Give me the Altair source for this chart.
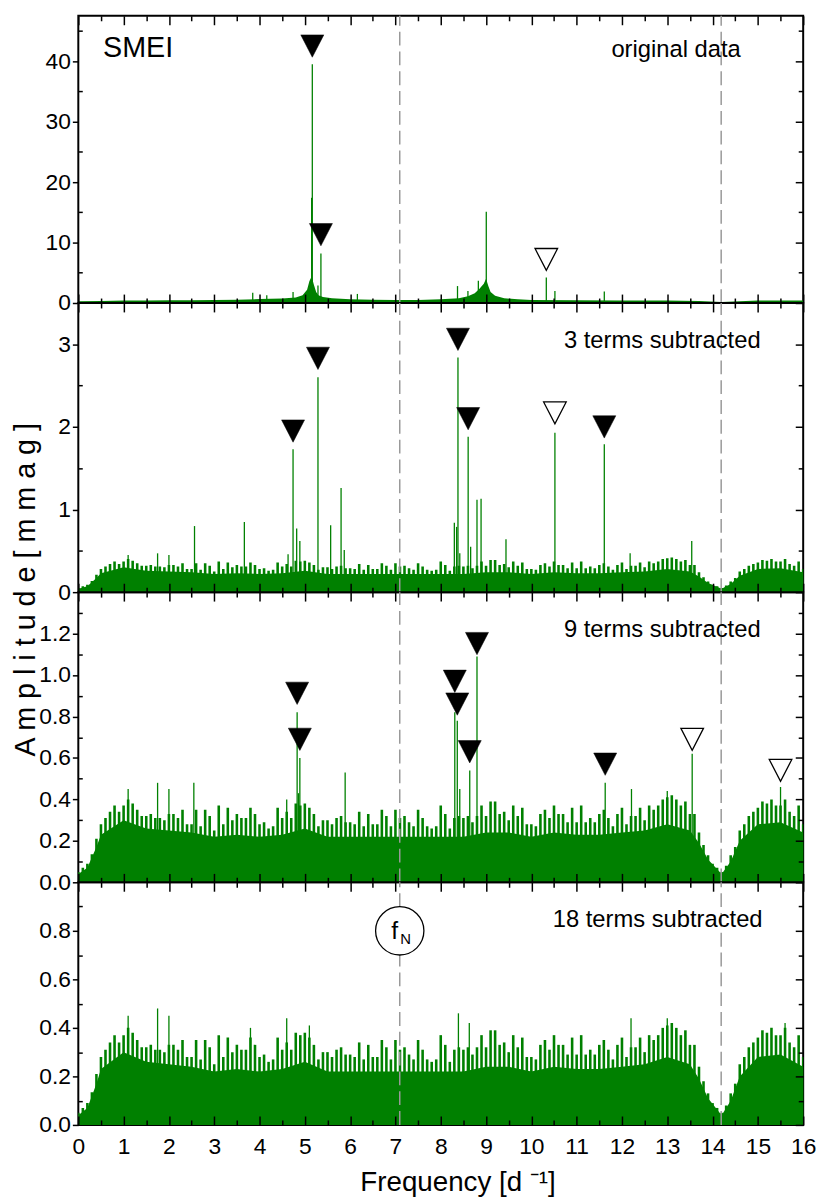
import json
import altair as alt
import pandas as pd

GREEN = "#008000"
FONT = "Liberation Sans"
W = 732

# ---------------- data ----------------
# Nyquist frequency and its double (dashed lines), d^-1
nyquist = [7.095, 14.19]

# residual noise periodogram (panels 2-4): spike tops sampled every 0.1 d^-1 from 0 to 16
noise_freq = [round(i * 0.1, 1) for i in range(161)]
residual = [
    0.05, 0.07, 0.09, 0.135, 0.21, 0.28, 0.31, 0.34, 0.37, 0.34,
    0.37, 0.40, 0.38, 0.35, 0.32, 0.32, 0.33, 0.31, 0.31, 0.30,
    0.33, 0.33, 0.31, 0.35, 0.28, 0.28, 0.35, 0.27, 0.35, 0.32,
    0.25, 0.37, 0.28, 0.36, 0.30, 0.33, 0.31, 0.31, 0.36, 0.33,
    0.28, 0.29, 0.26, 0.27, 0.36, 0.31, 0.34, 0.31, 0.38, 0.37,
    0.38, 0.36, 0.33, 0.27, 0.30, 0.30, 0.28, 0.31, 0.32, 0.29,
    0.29, 0.28, 0.34, 0.27, 0.33, 0.28, 0.28, 0.35, 0.32, 0.27,
    0.35, 0.31, 0.32, 0.29, 0.27, 0.35, 0.31, 0.27, 0.26, 0.27,
    0.37, 0.33, 0.26, 0.31, 0.32, 0.31, 0.32, 0.29, 0.32, 0.37,
    0.32, 0.39, 0.39, 0.33, 0.34, 0.30, 0.37, 0.32, 0.36, 0.28,
    0.28, 0.27, 0.33, 0.35, 0.31, 0.37, 0.33, 0.33, 0.29, 0.36,
    0.29, 0.37, 0.29, 0.31, 0.29, 0.33, 0.35, 0.31, 0.27, 0.33,
    0.36, 0.28, 0.32, 0.32, 0.36, 0.30, 0.37, 0.35, 0.37, 0.40,
    0.41, 0.42, 0.40, 0.37, 0.39, 0.33, 0.33, 0.24, 0.18, 0.13,
    0.09, 0.07, 0.05, 0.08, 0.13, 0.17, 0.25, 0.28, 0.32, 0.34,
    0.36, 0.39, 0.38, 0.40, 0.37, 0.37, 0.40, 0.34, 0.32, 0.37,
    0.28,
]
# solid (lower) level of the residual noise
base_freq = [0, 0.2, 0.4, 0.5, 1.0, 1.5, 2.0, 2.5, 3.0, 3.5, 4.0, 4.5, 5.0, 5.5, 6.0,
             6.5, 7.0, 7.5, 8.0, 8.5, 9.0, 9.5, 10.0, 10.5, 11.0, 11.5, 12.0, 12.5,
             13.0, 13.5, 13.7, 13.9, 14.2, 14.4, 14.6, 15.0, 15.5, 16.0]
base_amp = [0.04, 0.07, 0.17, 0.23, 0.30, 0.26, 0.25, 0.24, 0.22, 0.23, 0.22, 0.23, 0.26,
            0.22, 0.22, 0.22, 0.22, 0.22, 0.22, 0.22, 0.24, 0.24, 0.22, 0.24, 0.23, 0.23,
            0.24, 0.25, 0.28, 0.25, 0.19, 0.11, 0.04, 0.10, 0.20, 0.28, 0.29, 0.24]

# original data noise (panel 1)
orig_noise_freq = [0, 0.5, 1, 1.5, 2, 2.5, 3, 3.5, 4, 4.5, 4.8, 4.95, 5.05, 5.1, 5.15,
                   5.2, 5.25, 5.3, 5.4, 5.6, 6, 6.5, 7, 7.5, 8, 8.4, 8.6, 8.75, 8.85,
                   8.95, 9.0, 9.05, 9.1, 9.2, 9.4, 9.7, 10, 11, 12, 13, 13.7, 14.2,
                   14.6, 15, 16]
orig_noise_amp = [0.3, 0.35, 0.4, 0.4, 0.45, 0.45, 0.5, 0.55, 0.65, 0.75, 0.9, 1.3, 2.2,
                  3.6, 4.4, 3.0, 1.8, 1.3, 1.0, 0.8, 0.6, 0.55, 0.5, 0.5, 0.6, 0.8, 1.1,
                  1.6, 2.3, 3.2, 4.0, 2.8, 1.8, 1.2, 0.8, 0.6, 0.5, 0.45, 0.4, 0.4, 0.35,
                  0.15, 0.3, 0.4, 0.4]

# peaks (frequency, amplitude) per panel
p1_freq = [3.85, 4.16, 4.74, 5.15, 5.165, 5.29, 5.355, 6.16, 8.37, 8.60, 8.83, 9.005,
           10.33, 10.52, 11.61]
p1_amp = [1.7, 1.3, 1.8, 17.4, 39.5, 2.9, 8.2, 1.5, 2.8, 2.0, 3.7, 15.1, 4.2, 2.0, 1.9]

p2_freq = [1.1, 1.75, 2.0, 2.565, 3.665, 4.63, 4.74, 4.82, 4.89, 5.29, 5.57, 5.80, 5.87,
           8.30, 8.35, 8.38, 8.42, 8.605, 8.66, 8.80, 8.89, 9.44, 10.52, 11.61, 12.18,
           13.54]
p2_amp = [0.45, 0.47, 0.45, 0.80, 0.85, 0.46, 1.73, 0.77, 0.62, 2.60, 0.81, 1.26, 0.51,
          0.84, 0.79, 2.84, 0.47, 1.88, 0.55, 1.12, 1.13, 0.64, 1.93, 1.79, 0.47, 0.62]

p3_freq = [1.1, 1.75, 2.0, 2.55, 4.60, 4.83, 4.86, 4.89, 5.89, 8.31, 8.365, 8.42, 8.64,
           8.80, 11.63, 12.21, 13.0, 13.55, 15.50]
p3_amp = [0.45, 0.48, 0.45, 0.48, 0.40, 0.82, 0.43, 0.60, 0.53, 0.82, 0.78, 0.45, 0.54,
          1.09, 0.48, 0.45, 0.44, 0.62, 0.46]

p4_freq = [1.1, 1.75, 2.0, 3.8, 4.6, 5.1, 8.39, 8.63, 12.2, 13.0, 15.6]
p4_amp = [0.45, 0.48, 0.45, 0.40, 0.44, 0.41, 0.46, 0.42, 0.44, 0.44, 0.42]

# triangle markers (frequency, marker height)
m1_fill_f, m1_fill_a = [5.165, 5.355], [42.5, 11.3]
m1_open_f, m1_open_a = [10.33], [7.2]
m2_fill_f, m2_fill_a = [4.74, 5.29, 8.38, 8.605, 11.61], [1.95, 2.83, 3.06, 2.10, 2.00]
m2_open_f, m2_open_a = [10.52], [2.17]
m3_fill_f = [4.83, 4.89, 8.31, 8.365, 8.64, 8.80, 11.63]
m3_fill_a = [0.912, 0.69, 0.97, 0.86, 0.63, 1.152, 0.57]
m3_open_f, m3_open_a = [13.55, 15.50], [0.69, 0.54]

# axis ticks
x_ticks = [i * 0.5 for i in range(33)]
x_labels = list(range(17))

TRI = "M-1,-0.97L1,-0.97L0,0.97Z"


def panel(ymax, h, ymaj, ymin, yfmt, label, label_xy, pf, pa, ff=(), fa=(), of=(), oa=(),
          orig=False, last=False, ytitle=None, smei=False, fn_circle=False):
    xs = alt.Scale(domain=[0, 16], nice=False, zero=False)
    ys = alt.Scale(domain=[0, ymax], nice=False, zero=False)
    common = dict(grid=False, domain=False, tickColor="black", tickWidth=1.5)

    ylab_kw = dict(orient="left", values=ymaj, format=yfmt, tickSize=6,
                   labelFont=FONT, labelFontSize=23, labelColor="black",
                   labelPadding=2, labelFlush=False, labelOverlap=False, zindex=2,
                   **common)
    if ytitle:
        ylab_kw.update(title=ytitle, titleFont=FONT, titleFontSize=29,
                       titleFontWeight="normal", titleColor="black",
                       titleX=-53, titleY=h - 3, titleAngle=270,
                       titleBaseline="middle", titleAlign="center")
    else:
        ylab_kw.update(title=None)
    y_label_axis = alt.Axis(**ylab_kw)
    y_in_left = alt.Axis(orient="right", offset=-W, values=ymin, tickSize=4,
                         labels=False, title=None, zindex=2, **common)
    ytest = "indexof(%s, datum.value) >= 0" % json.dumps(ymaj)
    y_in_right = alt.Axis(orient="left", offset=-W, values=ymaj + ymin,
                          tickSize={"condition": {"test": ytest, "value": 8}, "value": 5},
                          labels=False, title=None, zindex=2, **common)
    xtest = "datum.value % 1 == 0"
    xsize = {"condition": {"test": xtest, "value": 9}, "value": 5}
    x_in_top = alt.Axis(orient="bottom", offset=-h, values=x_ticks, tickSize=xsize,
                        labels=False, title=None, zindex=2, **common)
    x_in_bot = alt.Axis(orient="top", offset=-h, values=x_ticks, tickSize=xsize,
                        labels=False, title=None, zindex=2, **common)
    if last:
        x_label_axis = alt.Axis(orient="bottom", values=x_labels, ticks=False, domain=False,
                                grid=False, labelFont=FONT, labelFontSize=23,
                                labelColor="black", labelPadding=11, labelFlush=False,
                                labelOverlap=False, zindex=2,
                                title="Frequency [d \u207b\u00b9]", titleFont=FONT,
                                titleFontSize=28, titleFontWeight="normal",
                                titleColor="black", titleX=383, titleY=66,
                                titleBaseline="alphabetic", titleAlign="center")
    else:
        x_label_axis = None

    layers = []
    if orig:
        layers.append(alt.Chart(pd.DataFrame({"f": orig_noise_freq, "a": orig_noise_amp}))
                      .mark_area(color=GREEN, interpolate="linear", opacity=1)
                      .encode(x=alt.X("f:Q", scale=xs, axis=x_label_axis),
                              y=alt.Y("a:Q", scale=ys, axis=y_label_axis)))
    else:
        layers.append(alt.Chart(pd.DataFrame({"f": base_freq, "a": base_amp}))
                      .mark_area(color=GREEN, interpolate="linear", opacity=1)
                      .encode(x=alt.X("f:Q", scale=xs, axis=x_label_axis),
                              y=alt.Y("a:Q", scale=ys, axis=y_label_axis)))
        layers.append(alt.Chart(pd.DataFrame({"f": noise_freq, "a": residual}))
                      .mark_rule(color=GREEN, strokeWidth=2.6, clip=True)
                      .encode(x=alt.X("f:Q", scale=xs, axis=None),
                              y=alt.Y("a:Q", scale=ys, axis=None), y2=alt.datum(0)))
    layers.append(alt.Chart(pd.DataFrame({"f": nyquist})).mark_rule(
        color="#999999", strokeDash=[14, 6], strokeWidth=1.5
    ).encode(
        x=alt.X("f:Q", scale=xs, axis=x_in_bot),
        y=alt.Y(datum=0, type="quantitative", scale=ys, axis=y_in_right),
        y2=alt.datum(ymax),
    ))
    layers.append(alt.Chart(pd.DataFrame({"f": pf, "a": pa})).mark_rule(
        color=GREEN, strokeWidth=1.3
    ).encode(
        x=alt.X("f:Q", scale=xs, axis=x_in_top),
        y=alt.Y("a:Q", scale=ys, axis=y_in_left),
        y2=alt.datum(0),
    ))
    if ff:
        layers.append(alt.Chart(pd.DataFrame({"f": list(ff), "a": list(fa)})).mark_point(
            shape=TRI, size=540, filled=True, fill="black", stroke="black",
            strokeWidth=0.5, opacity=1
        ).encode(x=alt.X("f:Q", scale=xs, axis=None), y=alt.Y("a:Q", scale=ys, axis=None)))
    if of:
        layers.append(alt.Chart(pd.DataFrame({"f": list(of), "a": list(oa)})).mark_point(
            shape=TRI, size=520, filled=True, fill="white", stroke="black",
            strokeWidth=1.3, opacity=1
        ).encode(x=alt.X("f:Q", scale=xs, axis=None), y=alt.Y("a:Q", scale=ys, axis=None)))
    if fn_circle:
        fn_df = pd.DataFrame({"f": [nyquist[0]], "a": [0.8]})
        enc = dict(x=alt.X("f:Q", scale=xs, axis=None), y=alt.Y("a:Q", scale=ys, axis=None))
        layers.append(alt.Chart(fn_df).mark_point(
            shape="circle", size=2380, filled=True, fill="white", stroke="black",
            strokeWidth=1.3, opacity=1).encode(**enc))
        layers.append(alt.Chart(fn_df).mark_text(
            text="f", font=FONT, fontSize=25, color="black", dx=-5, dy=8,
            baseline="alphabetic", align="center").encode(**enc))
        layers.append(alt.Chart(fn_df).mark_text(
            text="N", font=FONT, fontSize=15, color="black", dx=6, dy=13,
            baseline="alphabetic", align="center").encode(**enc))
    layers.append(alt.Chart(pd.DataFrame({"t": [label]})).mark_text(
        font=FONT, fontSize=24, color="black", align="right", baseline="alphabetic"
    ).encode(x=alt.value(label_xy[0]), y=alt.value(label_xy[1]), text="t:N"))
    if smei:
        layers.append(alt.Chart(pd.DataFrame({"t": ["SMEI"]})).mark_text(
            font=FONT, fontSize=29, color="black", align="left", baseline="alphabetic"
        ).encode(x=alt.value(25), y=alt.value(42), text="t:N"))
    return alt.layer(*layers).resolve_axis(x="independent", y="independent").properties(
        width=W, height=h)


p1 = panel(47.5, 290, [0, 10, 20, 30, 40], [5, 15, 25, 35, 45], "d",
           "original data", (669, 42), p1_freq, p1_amp, m1_fill_f, m1_fill_a,
           m1_open_f, m1_open_a, orig=True, smei=True)
p2 = panel(3.5, 292, [0, 1, 2, 3], [0.5, 1.5, 2.5], "d",
           "3 terms subtracted", (689, 45), p2_freq, p2_amp, m2_fill_f, m2_fill_a,
           m2_open_f, m2_open_a, ytitle="A m p l i t u d e   [ m m a g ]")
p3 = panel(1.4, 293, [0, 0.2, 0.4, 0.6, 0.8, 1.0, 1.2],
           [0.1, 0.3, 0.5, 0.7, 0.9, 1.1, 1.3], ".1f", "9 terms subtracted", (689, 45),
           p3_freq, p3_amp, m3_fill_f, m3_fill_a, m3_open_f, m3_open_a)
p4 = panel(1.0, 245, [0, 0.2, 0.4, 0.6, 0.8], [0.1, 0.3, 0.5, 0.7, 0.9], ".1f",
           "18 terms subtracted", (691, 45), p4_freq, p4_amp, last=True, fn_circle=True)

chart = alt.vconcat(p1, p2, p3, p4, spacing=0, bounds="flush").properties(
    padding={"left": 3, "top": 0, "right": 5, "bottom": 5}
).configure_view(stroke="black", strokeWidth=2)

chart.save("out.html", embed_options={"renderer": "svg", "actions": False})
